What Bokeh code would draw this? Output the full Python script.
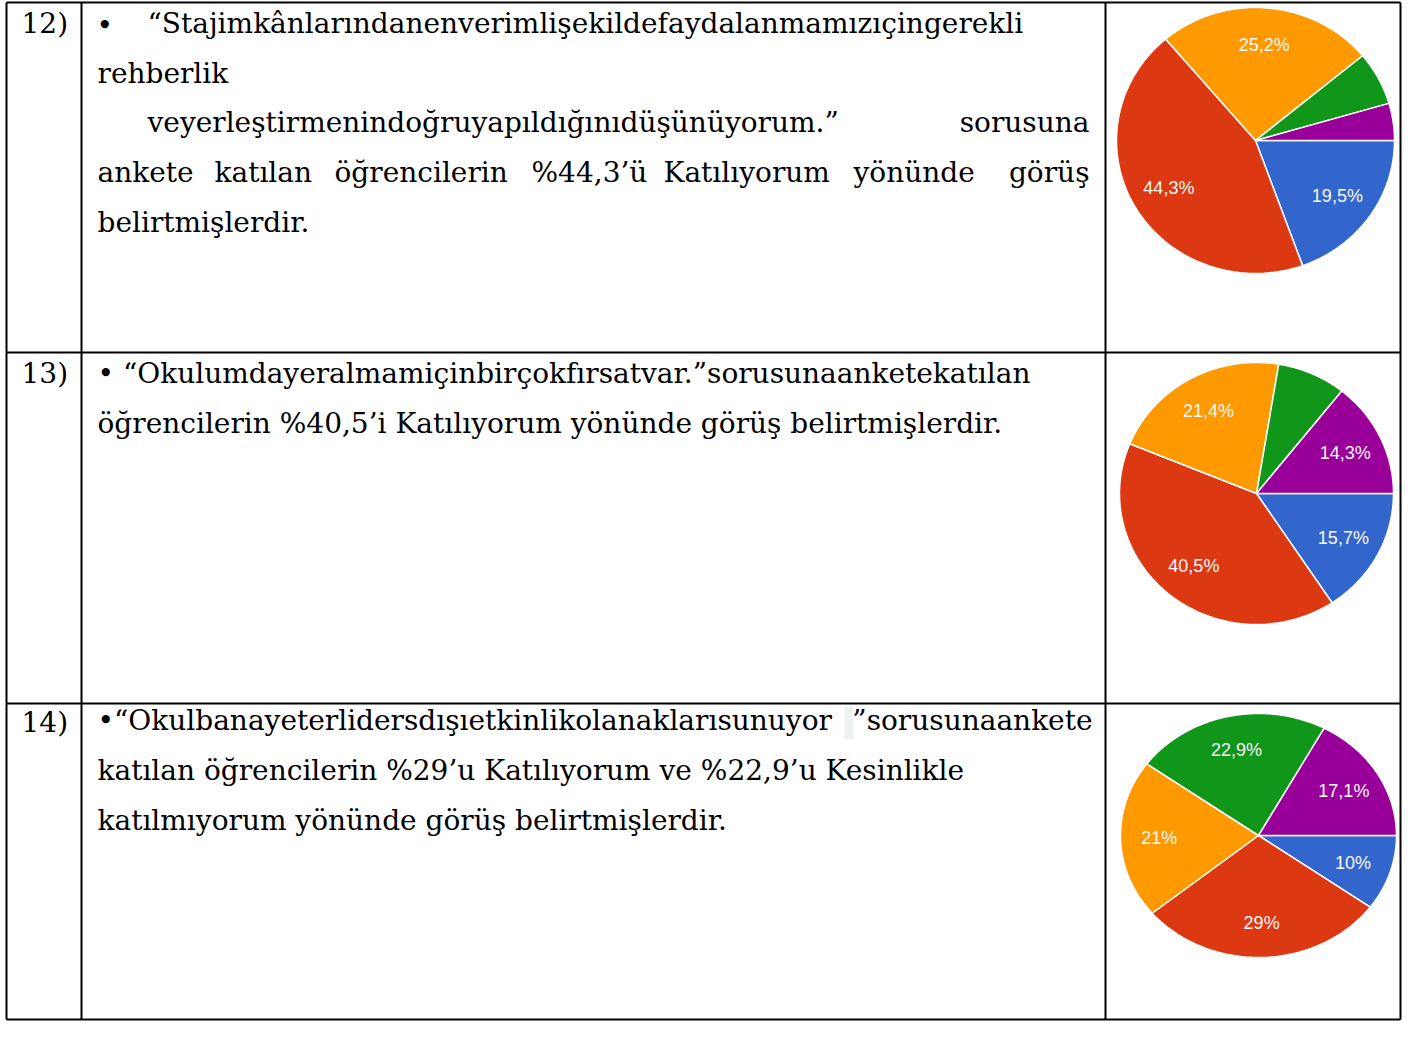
import numpy as np
from bokeh.plotting import figure
from bokeh.models import Range1d, ColumnDataSource
from bokeh.embed import file_html
from bokeh.resources import INLINE
from bokeh.core.properties import value

# ---------------- data ----------------
categories = ["Kesinlikle katılıyorum", "Katılıyorum", "Kararsızım",
              "Kesinlikle katılmıyorum", "Katılmıyorum"]
slice_colors = ["#3366cc", "#dc3912", "#ff9900", "#109618", "#990099"]

q12_values = [19.5, 44.3, 25.2, 6.5, 4.5]
q13_values = [15.7, 40.5, 21.4, 8.1, 14.3]
q14_values = [10.0, 29.0, 21.0, 22.9, 17.1]

q12_labels = ["19,5%", "44,3%", "25,2%", "", ""]
q13_labels = ["15,7%", "40,5%", "21,4%", "", "14,3%"]
q14_labels = ["10%", "29%", "21%", "22,9%", "17,1%"]

row_numbers = ["12)", "13)", "14)"]

# ---------------- figure ----------------
W, H = 1402, 1021
p = figure(width=W, height=H, output_backend="svg", toolbar_location=None,
           x_range=Range1d(0, W), y_range=Range1d(H, 0),
           x_axis_type=None, y_axis_type=None, min_border=0,
           background_fill_color="white", border_fill_color="white")
p.outline_line_color = None

# table lines
LW = 2
x_left, x_num, x_pie, x_right = 6, 81, 1105, 1400
y_top, y_r13, y_r14, y_bot = 2, 352, 703, 1019
vx = [x_left, x_num, x_pie, x_right]
hy = [y_top, y_r13, y_r14, y_bot]
p.segment(x0=vx, y0=[y_top] * 4, x1=vx, y1=[y_bot] * 4, line_color="black", line_width=LW)
p.segment(x0=[x_left] * 4, y0=hy, x1=[x_right] * 4, y1=hy, line_color="black", line_width=LW)

SERIF = value("DejaVu Serif")
FS = "28px"

def put(x, y, t, align="left"):
    p.text(x=[x], y=[y], text=[t], text_font=SERIF, text_font_size=FS,
           text_baseline="middle", text_align=align, text_color="black")

# row numbers
for yy, t in zip([23, 373, 722], row_numbers):
    put(21, yy, t)

# row 12 text
put(96, 25, "•")
put(147, 23, "“Stajimkânlarındanenverimlişekildefaydalanmamızıçingerekli")
put(97, 73, "rehberlik")
put(147, 122, "veyerleştirmenindoğruyapıldığınıdüşünüyorum.”")
put(1089, 122, "sorusuna", "right")
words = ["ankete", "katılan", "öğrencilerin", "%44,3’ü", "Katılıyorum", "yönünde"]
wx = [97, 214, 334, 531, 663, 853]
for x, w in zip(wx, words):
    put(x, 172, w)
put(1089, 172, "görüş", "right")
put(97, 222, "belirtmişlerdir.")

# row 13 text
put(97, 373, "• “Okulumdayeralmamiçinbirçokfırsatvar.”sorusunaanketekatılan")
put(97, 423, "öğrencilerin %40,5’i Katılıyorum yönünde görüş belirtmişlerdir.")

# row 14 text
p.quad(left=[844], right=[853], top=[706], bottom=[739], fill_color="#eef1f1", line_color=None)
put(97, 720, "•“Okulbanayeterlidersdışıetkinlikolanaklarısunuyor")
put(1092, 720, "”sorusunaankete", "right")
put(97, 770, "katılan öğrencilerin %29’u Katılıyorum ve %22,9’u Kesinlikle")
put(97, 820, "katılmıyorum yönünde görüş belirtmişlerdir.")

# ---------------- pies ----------------
pies = [
    (q12_values, q12_labels, 1255, 140, 139, 133),
    (q13_values, q13_labels, 1256, 493, 137, 131),
    (q14_values, q14_labels, 1258, 835, 138, 122),
]

for vals, labs, cx, cy, rx, ry in pies:
    v = np.array(vals, dtype=float)
    frac = v / v.sum()
    ends = np.cumsum(frac) * 2 * np.pi
    starts = ends - frac * 2 * np.pi
    xs, ys, lx, ly = [], [], [], []
    for a0, a1 in zip(starts, ends):
        t = np.linspace(a0, a1, 80)
        xs.append(np.concatenate([[cx], cx + rx * np.cos(t)]))
        ys.append(np.concatenate([[cy], cy + ry * np.sin(t)]))
        am = 0.5 * (a0 + a1)
        lx.append(cx + 0.72 * rx * np.cos(am))
        ly.append(cy + 0.72 * ry * np.sin(am))
    src = ColumnDataSource(dict(xs=xs, ys=ys, color=slice_colors, name=categories,
                                lx=lx, ly=ly, label=labs))
    p.patches(xs="xs", ys="ys", fill_color="color", line_color="white",
              line_width=1.5, source=src)
    p.text(x="lx", y="ly", text="label", source=src, text_color="#f8f8f8",
           text_font=value("Liberation Sans"), text_font_size="18px",
           text_align="center", text_baseline="middle")

open("out.html", "w").write(file_html(p, INLINE))
